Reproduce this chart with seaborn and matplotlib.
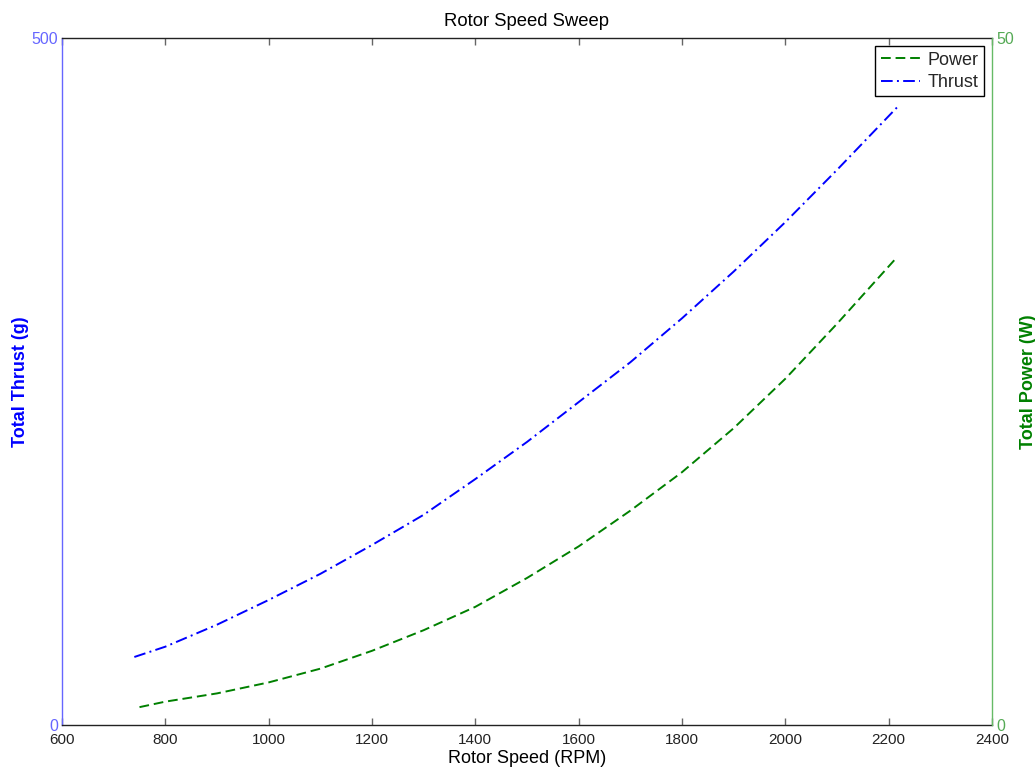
import matplotlib
matplotlib.use("Agg")
import matplotlib.pyplot as plt
import seaborn as sns
import pandas as pd
from matplotlib.lines import Line2D

# Data
thrust_rpm = [740, 800, 900, 1000, 1100, 1200, 1300, 1400, 1500, 1600, 1700, 1800, 1900, 2000, 2100, 2220]
thrust_g = [49.5, 57, 73, 91, 110, 131, 153, 179, 206, 235, 264, 296, 330, 366, 404, 451]
power_rpm = [750, 800, 900, 1000, 1100, 1200, 1300, 1400, 1500, 1600, 1700, 1800, 1900, 2000, 2100, 2215]
power_w = [1.3, 1.7, 2.3, 3.1, 4.1, 5.4, 6.9, 8.6, 10.7, 13.0, 15.6, 18.4, 21.6, 25.2, 29.2, 34.0]
x_ticks = [600, 800, 1000, 1200, 1400, 1600, 1800, 2000, 2200, 2400]

sns.set_style("white")
plt.rcParams['font.family'] = ['Liberation Sans', 'DejaVu Sans']

fig = plt.figure(figsize=(10.35, 7.67), dpi=100)
ax = fig.add_axes([62 / 1035, 42 / 767, 930 / 1035, 687 / 767])
ax2 = ax.twinx()

df_t = pd.DataFrame({"rpm": thrust_rpm, "thrust": thrust_g})
df_p = pd.DataFrame({"rpm": power_rpm, "power": power_w})

blue = "#0000ff"
green = "#008000"
dash_p = (5, 2.5)
dash_t = (6, 2.2, 1, 2.2)
sns.lineplot(data=df_t, x="rpm", y="thrust", ax=ax, color=blue, linewidth=1.4)
sns.lineplot(data=df_p, x="rpm", y="power", ax=ax2, color=green, linewidth=1.4)
ax.lines[0].set_dashes(dash_t)
ax2.lines[0].set_dashes(dash_p)

ax.set_xlim(600, 2400)
ax.set_ylim(0, 500)
ax2.set_ylim(0, 50)
ax.set_xticks(x_ticks)
ax.set_xticklabels([str(v) for v in x_ticks])
ax.set_yticks([0, 500])
ax2.set_yticks([0, 50])

for a in (ax, ax2):
    for s in a.spines.values():
        s.set_linewidth(1.0)
ax.spines['left'].set_color("#6666ff")
ax.spines['top'].set_color("#222222")
ax.spines['bottom'].set_color("#222222")
ax.spines['right'].set_visible(False)
ax2.spines['right'].set_color("#66bb66")
ax2.spines['left'].set_visible(False)
ax2.spines['top'].set_visible(False)
ax2.spines['bottom'].set_visible(False)

ax.tick_params(axis='x', direction='in', length=5, width=1, color="#666666",
               labelsize=11, labelcolor="#222222", top=True, bottom=True, pad=6)
ax.tick_params(axis='y', direction='in', length=0, labelsize=11.5, labelcolor="#6666ff", pad=3)
ax2.tick_params(axis='y', direction='in', length=0, labelsize=11.5, labelcolor="#55aa55", pad=3)

ax.set_xlabel("Rotor Speed (RPM)", fontsize=13, color="black")
ax.xaxis.set_label_coords(0.5, -0.037)
ax.set_ylabel("Total Thrust (g)", fontsize=13, color=blue, fontweight="bold")
ax.yaxis.set_label_coords(-0.036, 0.5)
ax2.set_ylabel("Total Power (W)", fontsize=13, color=green, fontweight="bold")
ax2.yaxis.set_label_coords(1.030, 0.5)
ax.set_title("Rotor Speed Sweep", fontsize=13.3, color="black", pad=9)

handles = [Line2D([], [], color=green, linewidth=1.4, dashes=dash_p),
           Line2D([], [], color=blue, linewidth=1.4, dashes=dash_t)]
leg = ax2.legend(handles, ["Power", "Thrust"], loc="upper right", fontsize=13,
                 frameon=True, fancybox=False, edgecolor="black", framealpha=1,
                 borderaxespad=0.45, handlelength=2.2, borderpad=0.3, labelspacing=0.3,
                 handletextpad=0.4)
leg.get_frame().set_linewidth(1.0)

fig.savefig("out.png", dpi=100)
